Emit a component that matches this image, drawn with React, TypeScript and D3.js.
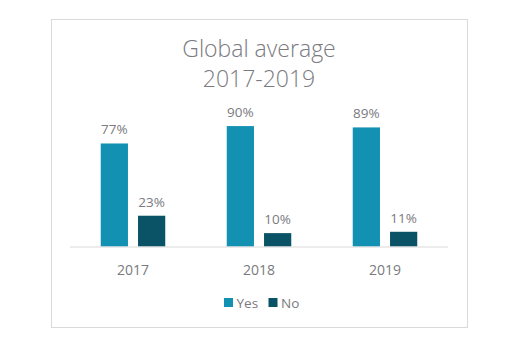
import React from "react";
import * as d3 from "d3";

// Data
const years = ["2017", "2018", "2019"];
const seriesNames = ["Yes", "No"];
const yesValues = [77, 90, 89];
const noValues = [23, 10, 11];
const titleLines = ["Global average", "2017-2019"];

const colors = ["#1391b3", "#0a5367"];
const textColor = "#7a7a80";
const font = "'Open Sans', 'Noto Sans', sans-serif";

const App = () => {
  const width = 512;
  const height = 364;

  // plot area
  const plot = { left: 70, right: 448, top: 112.7, bottom: 246.5 };

  const xScale = d3.scaleBand<string>().domain(years).range([plot.left, plot.right]);
  const yScale = d3.scaleLinear().domain([0, 100]).range([plot.bottom, plot.top]);
  const inner = d3
    .scaleBand<string>()
    .domain(seriesNames)
    .range([0, 64.5])
    .paddingInner(0.27);

  const series = [yesValues, noValues];

  return (
    <div style={{ position: "absolute", left: 0, top: 0 }}>
      <svg width={width} height={height} style={{ display: "block", background: "#fff" }}>
        {/* frame */}
        <rect x={51.5} y={19.5} width={416} height={308} fill="#fff" stroke="#d9d9d9" strokeWidth={1} />

        {/* title */}
        {titleLines.map((t, i) => (
          <text
            key={t}
            x={259}
            y={57 + i * 30}
            textAnchor="middle"
            fontFamily={font}
            fontWeight={300}
            fontSize={23}
            fill={textColor}
          >
            {t}
          </text>
        ))}

        {/* bars */}
        {years.map((year, i) => {
          const gx = xScale(year)! + (xScale.bandwidth() - 64.5) / 2;
          return (
            <g key={year} transform={`translate(${gx},0)`}>
              {seriesNames.map((s, j) => {
                const v = series[j][i];
                const bx = inner(s)!;
                return (
                  <g key={s}>
                    <rect
                      x={bx}
                      y={yScale(v)}
                      width={inner.bandwidth()}
                      height={yScale(0) - yScale(v)}
                      fill={colors[j]}
                    />
                    <text
                      x={bx + inner.bandwidth() / 2}
                      y={yScale(v) - 9}
                      textAnchor="middle"
                      fontFamily={font}
                      fontSize={13.5}
                      fill={textColor}
                    >
                      {`${v}%`}
                    </text>
                  </g>
                );
              })}
            </g>
          );
        })}

        {/* x axis */}
        <line x1={plot.left} x2={plot.right} y1={plot.bottom + 0.5} y2={plot.bottom + 0.5} stroke="#d9d9d9" strokeWidth={1} />
        {years.map((year) => (
          <text
            key={year}
            x={xScale(year)! + xScale.bandwidth() / 2}
            y={274.5}
            textAnchor="middle"
            fontFamily={font}
            fontSize={14}
            fill={textColor}
          >
            {year}
          </text>
        ))}

        {/* legend */}
        {seriesNames.map((s, j) => {
          const lx = 224 + j * 44.5;
          return (
            <g key={s}>
              <rect x={lx} y={298} width={9} height={9} fill={colors[j]} />
              <text x={lx + 12.5} y={307.5} fontFamily={font} fontSize={13.5} fill={textColor}>
                {s}
              </text>
            </g>
          );
        })}
      </svg>
    </div>
  );
};

export default App;
